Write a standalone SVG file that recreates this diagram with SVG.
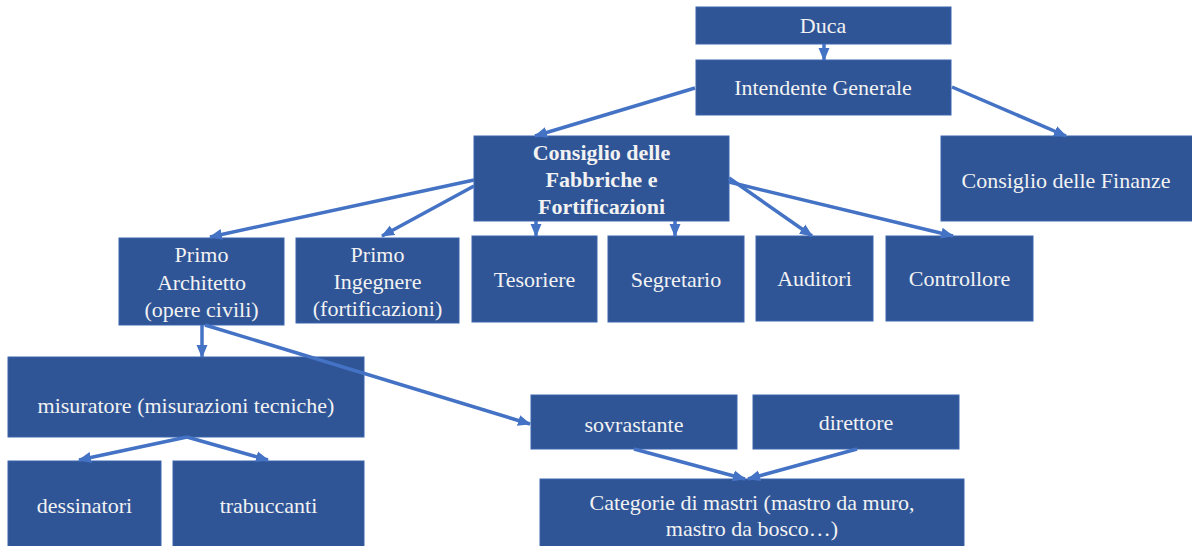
<svg xmlns="http://www.w3.org/2000/svg" width="1192" height="546" viewBox="0 0 1192 546">
<style>
.box{fill:#2F5597;stroke:#3B64AC;stroke-width:1}
.t{font-family:"Liberation Serif","Times New Roman",serif;font-size:22px;fill:#F2F2F2;text-anchor:middle}
.b{font-weight:bold}
.c{stroke:#4472C4;stroke-width:3.5;fill:none;marker-end:url(#ah)}
</style>
<defs>
<marker id="ah" markerUnits="userSpaceOnUse" markerWidth="14" markerHeight="14" viewBox="0 0 14 14" refX="12" refY="7" orient="auto">
<path d="M0,1.5 L13,7 L0,12.5 Z" fill="#4472C4"/>
</marker>
</defs>
<rect width="1192" height="546" fill="#FFFFFF"/>
<g id="duca"><rect class="box" x="696" y="7" width="255" height="37"/><text class="t" x="823" y="33">Duca</text></g>
<g id="intendente"><rect class="box" x="696" y="60" width="255" height="55"/><text class="t" x="823" y="95">Intendente Generale</text></g>
<g id="fabbriche"><rect class="box" x="474" y="136" width="255" height="85"/><text class="t b" x="601.5" y="160">Consiglio delle</text><text class="t b" x="601.5" y="187">Fabbriche e</text><text class="t b" x="601.5" y="214">Fortificazioni</text></g>
<g id="finanze"><rect class="box" x="941" y="136" width="252" height="85"/><text class="t" x="1066" y="188">Consiglio delle Finanze</text></g>
<g id="architetto"><rect class="box" x="119" y="238" width="165" height="87"/><text class="t" x="201.5" y="262">Primo</text><text class="t" x="201.5" y="290">Architetto</text><text class="t" x="201.5" y="317">(opere civili)</text></g>
<g id="ingegnere"><rect class="box" x="296" y="238" width="163" height="85"/><text class="t" x="377.5" y="262">Primo</text><text class="t" x="377.5" y="289">Ingegnere</text><text class="t" x="377.5" y="316">(fortificazioni)</text></g>
<g id="tesoriere"><rect class="box" x="472" y="236" width="125" height="86"/><text class="t" x="534.5" y="287">Tesoriere</text></g>
<g id="segretario"><rect class="box" x="608" y="236" width="136" height="86"/><text class="t" x="676" y="287">Segretario</text></g>
<g id="auditori"><rect class="box" x="756" y="236" width="117" height="85"/><text class="t" x="814.5" y="286">Auditori</text></g>
<g id="controllore"><rect class="box" x="886" y="236" width="147" height="85"/><text class="t" x="959.5" y="286">Controllore</text></g>
<g id="misuratore"><rect class="box" x="8" y="357" width="356" height="80"/><text class="t" x="186" y="413">misuratore (misurazioni tecniche)</text></g>
<g id="dessinatori"><rect class="box" x="8" y="461" width="153" height="90"/><text class="t" x="84.5" y="513">dessinatori</text></g>
<g id="trabuccanti"><rect class="box" x="173" y="461" width="191" height="90"/><text class="t" x="268.5" y="513">trabuccanti</text></g>
<g id="sovrastante"><rect class="box" x="531" y="395" width="206" height="54"/><text class="t" x="634" y="432">sovrastante</text></g>
<g id="direttore"><rect class="box" x="753" y="395" width="206" height="54"/><text class="t" x="856" y="430">direttore</text></g>
<g id="categorie"><rect class="box" x="540" y="479" width="424" height="72"/><text class="t" x="752" y="510">Categorie di mastri (mastro da muro,</text><text class="t" x="752" y="536">mastro da bosco…)</text></g>
<g id="connectors">
<line class="c" x1="824" y1="44" x2="824" y2="60"/>
<line class="c" x1="695" y1="88" x2="535" y2="136"/>
<line class="c" x1="952" y1="87" x2="1066" y2="136"/>
<line class="c" x1="474" y1="180" x2="210" y2="237"/>
<line class="c" x1="474" y1="186" x2="382" y2="236"/>
<line class="c" x1="536" y1="221" x2="536" y2="236"/>
<line class="c" x1="675" y1="221" x2="675" y2="236"/>
<line class="c" x1="729" y1="178" x2="812" y2="236"/>
<line class="c" x1="729" y1="182" x2="953" y2="236"/>
<line class="c" x1="202" y1="325" x2="202" y2="357"/>
<line class="c" x1="205" y1="325" x2="530" y2="424"/>
<line class="c" x1="187" y1="437" x2="79" y2="460"/>
<line class="c" x1="187" y1="437" x2="268" y2="460"/>
<line class="c" x1="634" y1="449" x2="745" y2="479"/>
<line class="c" x1="857" y1="449" x2="748" y2="479"/>
</g>
</svg>
